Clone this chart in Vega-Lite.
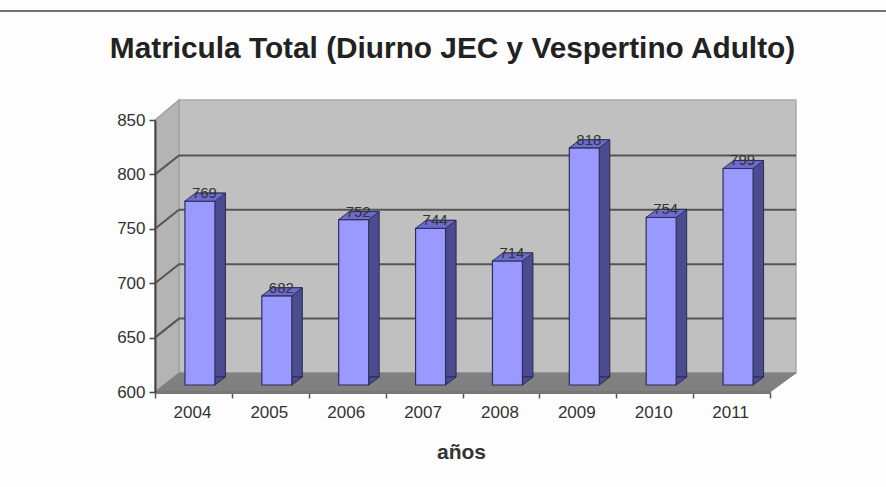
{
"$schema":"https://vega.github.io/schema/vega-lite/v6.json",
"width":615,"height":272,
"autosize":{"type":"none"},
"padding":{"left":155,"top":120,"right":116,"bottom":95},
"background":"#fdfdfd",
"title":{"text":"Matricula Total (Diurno JEC y Vespertino Adulto)","font":"Liberation Sans","fontSize":29.8,"fontWeight":"bold","color":"#222222","anchor":"middle","frame":"group","dx":-10,"offset":-55},
"data":{"values":[
{"year":"2004","value":769},{"year":"2005","value":682},{"year":"2006","value":752},{"year":"2007","value":744},
{"year":"2008","value":714},{"year":"2009","value":818},{"year":"2010","value":754},{"year":"2011","value":799}]},
"encoding":{
"x":{"field":"year","type":"nominal","title":"años","scale":{"type":"band","domain":["2004","2005","2006","2007","2008","2009","2010","2011"],"paddingInner":0,"paddingOuter":0},
"axis":{"zindex":1,"labelAngle":0,"labelFont":"Liberation Sans","labelFontSize":17,"labelColor":"#333333","labelPadding":6,"labelOffset":-1.5,"tickBand":"extent","tickSize":6,"tickColor":"#555555","tickWidth":1.5,"domainColor":"#777777","domainWidth":3,"grid":false,"titleFont":"Liberation Sans","titleFontSize":21,"titleFontWeight":"bold","titleColor":"#333333","titlePadding":21,"titleX":306}},
"y":{"field":"value","type":"quantitative","title":null,"scale":{"domain":[600,850],"nice":false,"zero":false},
"axis":{"zindex":1,"values":[600,650,700,750,800,850],"labelFont":"Liberation Sans","labelFontSize":17,"labelColor":"#333333","labelPadding":4,"tickSize":6,"tickColor":"#444444","tickWidth":1.5,"domainColor":"#444444","domainWidth":2,"grid":false}}
},
"layer":[
{"data":{"values":[{"year":"2004","value":600}]},"mark":{"type":"point","filled":true,"size":4,"fill":"#C0C0C0","stroke":"#a8a8a8","strokeWidth":1.5,"opacity":1,"clip":false,"shape":"M-14.45,-19 H602.55 V-292 H-14.45 Z"}},
{"data":{"values":[{"year":"2004","value":600}]},"mark":{"type":"point","filled":true,"size":4,"fill":"#B4B4B4","stroke":"#a0a0a0","strokeWidth":1.5,"opacity":1,"clip":false,"shape":"M-38.45,0 L-14.45,-19 V-292 L-38.45,-272 Z"}},
{"data":{"values":[{"year":"2004","value":600}]},"mark":{"type":"point","filled":true,"size":4,"fill":"#808080","stroke":"#808080","strokeWidth":1,"opacity":1,"clip":false,"shape":"M-38.45,0 L-14.45,-19 H602.55 L576.55,0 Z"}},
{"data":{"values":[{"year":"2004","value":650},{"year":"2004","value":700},{"year":"2004","value":750},{"year":"2004","value":800}]},"mark":{"type":"point","filled":false,"size":4,"stroke":"#555555","strokeWidth":2,"opacity":1,"clip":false,"shape":"M-38.45,0 L-14.45,-19 H602.55"}},
{"data":{"values":[{"year":"2004","value":600}]},"mark":{"type":"point","filled":false,"size":4,"stroke":"#333333","strokeWidth":1.3,"opacity":0.9,"clip":false,"shape":"M-193.45,-381 H692.55"}},
{"mark":{"type":"bar","width":30,"xOffset":17,"yOffset":-15,"y2Offset":-15,"fill":"#4B4B8F","stroke":"#2a2a55","strokeWidth":1},"encoding":{"y2":{"datum":600}}},
{"mark":{"type":"point","filled":true,"size":4,"fill":"#4B4B8F","stroke":"#2a2a55","strokeWidth":1,"opacity":1,"shape":"M21.5,-7 L32,-15 H21.5 Z"},"encoding":{"y":{"datum":600}}},
{"mark":{"type":"bar","width":30,"xOffset":6.5,"yOffset":-7,"y2Offset":-7,"fill":"#9999FF","stroke":"#2f2f55","strokeWidth":1.2},"encoding":{"y2":{"datum":600}}},
{"mark":{"type":"point","filled":true,"size":4,"fill":"#6B6BD0","stroke":"#2f2f55","strokeWidth":1,"opacity":1,"shape":"M-8.5,-7 H21.5 L32,-15 H2 Z"}},
{"mark":{"type":"text","font":"Liberation Sans","fontSize":15,"color":"#333333","dx":11,"dy":-15,"baseline":"middle"},"encoding":{"text":{"field":"value","type":"quantitative"}}}
]
}
